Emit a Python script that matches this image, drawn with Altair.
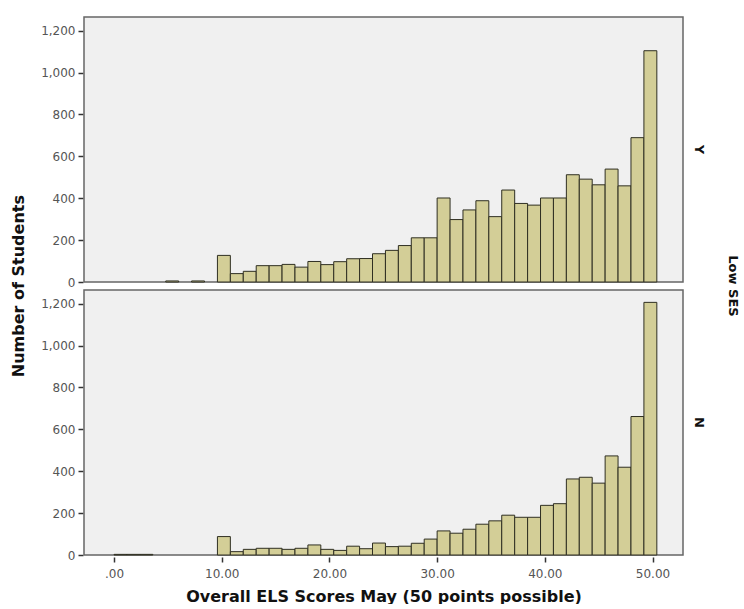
import altair as alt
import pandas as pd

bin_width = 1.2
bin_starts = [0.0, 1.2, 2.4, 3.6, 4.8, 6.0, 7.2, 8.4, 9.6, 10.8, 12.0, 13.2, 14.4,
              15.6, 16.8, 18.0, 19.2, 20.4, 21.6, 22.8, 24.0, 25.2, 26.4, 27.6,
              28.8, 30.0, 31.2, 32.4, 33.6, 34.8, 36.0, 37.2, 38.4, 39.6, 40.8,
              42.0, 43.2, 44.4, 45.6, 46.8, 48.0, 49.2]

counts_y = [0, 0, 0, 0, 5, 0, 5, 0,
            127, 40, 51, 78, 78, 84, 71, 98, 83, 97, 111, 112,
            135, 151, 174, 211, 211, 401, 298, 344, 388, 312, 439, 375,
            367, 401, 401, 512, 491, 464, 539, 459, 689, 1104]

counts_n = [3, 3, 3, 0, 0, 0, 0, 0,
            88, 16, 27, 32, 32, 27, 32, 48, 27, 22, 42, 30,
            57, 40, 42, 56, 76, 115, 104, 123, 147, 163, 190, 180,
            180, 237, 245, 363, 371, 343, 473, 419, 661, 1206]

groups = ["Y", "N"]
x_ticks = [0, 10, 20, 30, 40, 50]
y_ticks = [0, 200, 400, 600, 800, 1000, 1200]

rows = []
for g, counts in zip(groups, [counts_y, counts_n]):
    for s, c in zip(bin_starts, counts):
        if c > 0:
            rows.append({"group": g, "start": s, "end": round(s + bin_width, 2),
                         "count": c, "base": 0})
df = pd.DataFrame(rows)

FONT = "DejaVu Sans"

base = alt.Chart(df).mark_bar(
    fill="#D3CE97", stroke="#2f2f22", strokeWidth=1
).encode(
    x=alt.X("start:Q",
            scale=alt.Scale(domain=[-2.79, 52.83], nice=False, zero=False),
            axis=alt.Axis(values=x_ticks,
                          labelExpr="datum.value == 0 ? '.00' : format(datum.value, '.2f')",
                          title="Overall ELS Scores May (50 points possible)",
                          labelPadding=6, titlePadding=9)),
    x2="end:Q",
    y=alt.Y("count:Q",
            scale=alt.Scale(domain=[0, 1265], nice=False),
            axis=alt.Axis(values=y_ticks, format=",.0f", title=None)),
    y2="base:Q",
).properties(width=599, height=265)

chart = base.facet(
    row=alt.Row("group:N", sort=groups, title="Low SES",
                header=alt.Header(labelOrient="right", titleOrient="right",
                                  labelAngle=90, titleAngle=90,
                                  labelFont=FONT, titleFont=FONT,
                                  labelFontSize=13, titleFontSize=13,
                                  labelFontWeight="bold", titleFontWeight="bold",
                                  labelColor="#111", titleColor="#111",
                                  labelPadding=8, titlePadding=11)),
    spacing=5,
).properties(
    title=alt.TitleParams("Number of Students", orient="left", anchor="middle",
                          font=FONT, fontSize=16, fontWeight="bold",
                          color="#111", offset=14, dx=24),
    padding={"left": 10, "top": 16, "right": 3, "bottom": 0},
).configure_view(
    fill="#F0F0F0", stroke="#666666", strokeWidth=1.5
).configure_axis(
    domain=False, grid=False,
    labelFont=FONT, labelFontSize=12, labelColor="#555555",
    tickColor="#333333", tickSize=5, tickWidth=1.5,
    titleFont=FONT, titleFontSize=16, titleFontWeight="bold", titleColor="#111",
    labelPadding=3,
)

chart.save("out.html", embed_options={"renderer": "svg", "actions": False})
